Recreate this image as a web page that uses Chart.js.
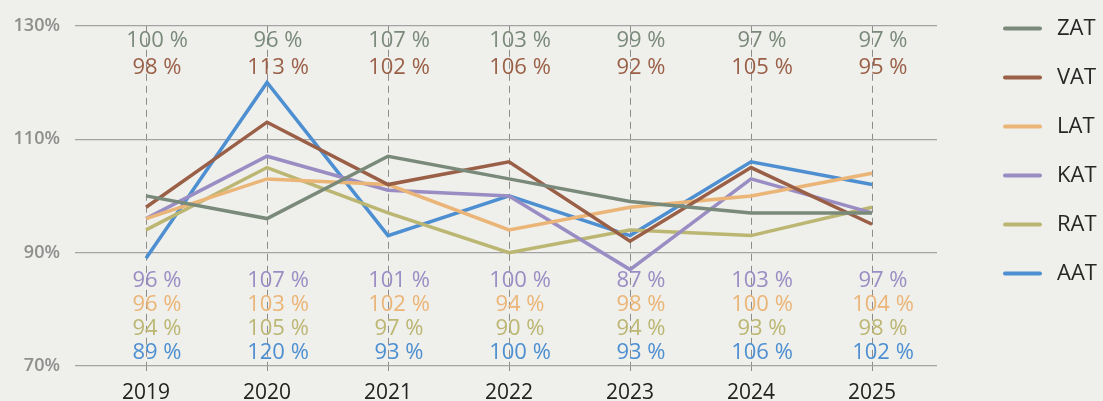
<!DOCTYPE html>
<html>
<head>
<meta charset="utf-8">
<script src="https://cdn.jsdelivr.net/npm/chart.js@4/dist/chart.umd.min.js"></script>
<style>
  html, body { margin: 0; padding: 0; background: #efefeb; }
  canvas { display: block; }
</style>
</head>
<body>
<canvas id="c" width="1103" height="401"></canvas>
<script>
// Categories and series (percent)
const years = ['2019', '2020', '2021', '2022', '2023', '2024', '2025'];
const zat = [100, 96, 107, 103, 99, 97, 97];
const vat = [98, 113, 102, 106, 92, 105, 95];
const lat = [96, 103, 102, 94, 98, 100, 104];
const kat = [96, 107, 101, 100, 87, 103, 97];
const rat = [94, 105, 97, 90, 94, 93, 98];
const aat = [89, 120, 93, 100, 93, 106, 102];
const yTicks = [70, 90, 110, 130];

const series = [
  { label: 'ZAT', values: zat, color: '#7a8a7a' },
  { label: 'VAT', values: vat, color: '#9a5f47' },
  { label: 'LAT', values: lat, color: '#ebb577' },
  { label: 'KAT', values: kat, color: '#9a8dc4' },
  { label: 'RAT', values: rat, color: '#bcb673' },
  { label: 'AAT', values: aat, color: '#4d8fd1' }
];

// Value rows: two above the plot, four below it
const topRows = [{ s: 0, y: 41 }, { s: 1, y: 68 }];
const bottomRows = [{ s: 3, y: 281 }, { s: 2, y: 305 }, { s: 4, y: 329 }, { s: 5, y: 353 }];

const FONT = '"Open Sans", "Noto Sans", sans-serif';

const background = {
  id: 'background',
  beforeDraw(chart) {
    const ctx = chart.ctx;
    ctx.save();
    ctx.fillStyle = '#efefeb';
    ctx.fillRect(0, 0, chart.width, chart.height);
    ctx.restore();
  }
};

const valueLabels = {
  id: 'valueLabels',
  afterDatasetsDraw(chart) {
    const ctx = chart.ctx;
    const xs = chart.scales.x;
    ctx.save();
    ctx.font = '400 22px ' + FONT;
    ctx.textAlign = 'center';
    ctx.textBaseline = 'middle';
    [...topRows, ...bottomRows].forEach(row => {
      const s = series[row.s];
      ctx.fillStyle = s.color;
      s.values.forEach((v, i) => {
        ctx.fillText(v + ' %', xs.getPixelForValue(i) + 11, row.y);
      });
    });
    ctx.restore();
  }
};

const sideLegend = {
  id: 'sideLegend',
  afterDraw(chart) {
    const ctx = chart.ctx;
    ctx.save();
    ctx.font = '400 22px ' + FONT;
    ctx.textAlign = 'left';
    ctx.textBaseline = 'middle';
    chart.data.datasets.forEach((ds, i) => {
      const y = 28.5 + i * 49;
      ctx.strokeStyle = ds.borderColor;
      ctx.lineWidth = 4;
      ctx.lineCap = 'round';
      ctx.beginPath();
      ctx.moveTo(1005, y);
      ctx.lineTo(1040, y);
      ctx.stroke();
      ctx.fillStyle = '#262626';
      ctx.fillText(ds.label, 1057, y);
    });
    ctx.restore();
  }
};

new Chart(document.getElementById('c'), {
  type: 'line',
  data: {
    datasets: series.map(s => ({
      label: s.label,
      data: s.values.map((v, i) => ({ x: i, y: v })),
      borderColor: s.color,
      backgroundColor: s.color,
      borderWidth: 3.5,
      pointRadius: 0,
      tension: 0,
      fill: false
    }))
  },
  options: {
    responsive: false,
    animation: false,
    layout: { padding: { top: 25, right: 166, left: 0, bottom: 0 } },
    plugins: { legend: { display: false }, tooltip: { enabled: false } },
    scales: {
      x: {
        type: 'linear',
        min: -0.587,
        max: 6.537,
        afterBuildTicks(s) { s.ticks = years.map((_, i) => ({ value: i })); },
        afterFit(s) { s.height = 35; },
        border: { display: false, dash: [7, 5] },
        grid: {
          color: '#8c8c8c',
          lineWidth: 1,
          drawTicks: true,
          tickLength: 5,
          tickColor: '#8c8c8c',
          tickBorderDash: []
        },
        ticks: {
          padding: 9,
          color: '#222222',
          font: { family: FONT, size: 21 },
          callback: v => years[v]
        }
      },
      y: {
        min: 70,
        max: 130,
        afterBuildTicks(s) { s.ticks = yTicks.map(v => ({ value: v })); },
        afterFit(s) { s.width = 75; },
        border: { display: false },
        grid: { color: '#a3a3a3', lineWidth: 1.2, drawTicks: false },
        ticks: {
          padding: 15,
          color: '#8e8e8e',
          font: { family: FONT, size: 18, weight: '600' },
          callback: v => v + '%'
        }
      }
    }
  },
  plugins: [background, valueLabels, sideLegend]
});
</script>
</body>
</html>
